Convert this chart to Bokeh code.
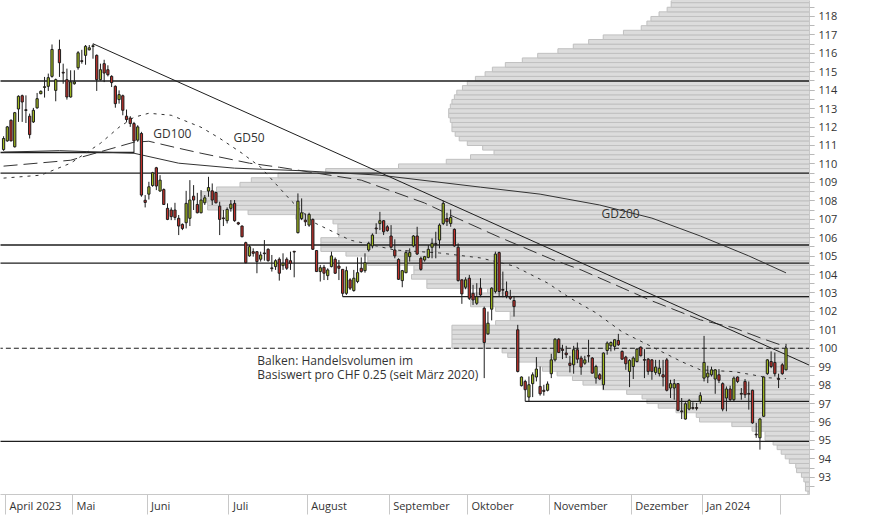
import numpy as np
from bokeh.plotting import figure
from bokeh.models import Range1d, FixedTicker, ColumnDataSource
from bokeh.core.properties import value
from bokeh.embed import file_html
from bokeh.resources import INLINE

# ---------------- data ----------------
month_labels = ["April 2023", "Mai", "Juni", "Juli", "August", "September",
                "Oktober", "November", "Dezember", "Jan 2024"]
# index of first trading day of each month (last entry = Feb 2024)
month_first_day = [1, 19, 39, 61, 82, 104, 125, 147, 169, 188, 209]

opens = [
    110.78, 111.25, 112.37, 110.93, 112.98, 113.70, 112.94, 112.59, 112.28, 113.04,
    113.81, 114.15, 114.21, 114.75, 113.99, 116.21, 114.97, 114.57, 113.63, 114.35,
    115.22, 115.60, 115.89, 116.19, 116.37, 115.89, 114.57, 115.44, 115.11, 114.75,
    114.21, 113.49, 113.70, 112.59, 112.49, 112.19, 111.29, 111.65, 108.03, 108.36,
    108.83, 109.79, 108.53, 108.61, 107.59, 107.50, 107.50, 107.05, 106.72, 106.81,
    107.05, 108.25, 107.80, 107.35, 107.89, 108.53, 108.54, 108.45, 107.71, 107.07,
    106.92, 107.59, 107.86, 106.81, 106.63, 105.73, 105.01, 105.24, 105.24, 104.83,
    105.17, 105.37, 104.36, 104.43, 104.83, 104.48, 104.83, 104.75, 105.26, 106.27,
    107.04, 106.95, 106.68, 106.99, 105.30, 104.16, 104.39, 103.94, 104.43, 104.83,
    104.46, 104.28, 102.98, 103.71, 103.13, 103.62, 104.34, 104.21, 105.33, 105.55,
    106.52, 106.77, 106.92, 106.59, 106.09, 105.33, 104.82, 103.67, 104.10, 104.97,
    105.55, 106.09, 104.88, 104.79, 104.93, 105.48, 105.68, 105.87, 106.77, 107.04,
    106.77, 106.45, 105.48, 103.71, 103.31, 103.80, 102.98, 102.44, 103.26, 102.17,
    100.78, 102.12, 103.08, 105.19, 103.19, 103.08, 102.80, 102.59, 101.00, 97.97,
    98.20, 97.35, 98.08, 98.44, 97.93, 97.72, 97.72, 98.62, 99.37, 100.49,
    99.95, 99.74, 99.19, 99.10, 99.92, 99.47, 99.19, 99.61, 99.47, 98.38,
    98.56, 98.02, 99.88, 100.13, 100.10, 100.42, 99.83, 99.52, 98.74, 99.01,
    99.28, 100.06, 99.39, 99.41, 99.37, 98.69, 98.62, 98.56, 99.37, 97.84,
    97.84, 98.08, 96.60, 96.16, 96.70, 96.78, 96.78, 97.12, 98.38, 98.44,
    98.56, 98.33, 98.56, 98.08, 97.30, 97.79, 97.21, 98.44, 97.55, 98.20,
    97.55, 97.72, 95.34, 95.14, 96.31, 98.62, 99.28, 99.23, 98.35, 99.10,
    98.83]

highs = [
    111.50, 112.06, 112.41, 112.82, 113.72, 113.76, 113.72, 112.73, 113.04, 113.85,
    113.99, 114.72, 114.90, 116.48, 114.63, 116.74, 115.44, 115.17, 115.08, 115.08,
    116.12, 116.19, 116.45, 116.45, 116.52, 115.94, 115.44, 115.65, 115.35, 114.81,
    114.26, 113.99, 113.76, 112.95, 112.59, 112.28, 112.10, 111.74, 108.31, 109.03,
    109.57, 109.84, 109.39, 108.67, 107.86, 107.64, 107.89, 107.23, 106.77, 108.54,
    109.12, 108.85, 108.43, 108.58, 108.31, 109.30, 108.94, 108.49, 107.95, 107.50,
    107.64, 108.04, 108.04, 106.86, 106.66, 105.78, 105.60, 105.42, 105.26, 105.24,
    105.87, 105.42, 105.06, 104.83, 104.93, 105.15, 104.93, 105.24, 105.28, 108.40,
    108.13, 107.31, 107.35, 107.04, 105.33, 104.52, 104.52, 104.34, 105.24, 104.93,
    104.79, 104.30, 104.43, 103.80, 104.25, 104.93, 104.93, 105.15, 105.78, 106.23,
    106.78, 107.40, 106.95, 106.68, 106.68, 105.91, 104.88, 104.25, 105.33, 105.42,
    106.14, 106.59, 104.97, 105.01, 105.60, 105.96, 106.32, 106.77, 108.00, 107.35,
    107.53, 106.50, 105.69, 103.74, 103.85, 103.98, 103.44, 103.53, 103.80, 102.26,
    101.99, 103.31, 105.24, 105.24, 104.16, 103.62, 103.17, 102.84, 101.27, 98.47,
    98.29, 98.47, 98.69, 99.52, 99.01, 98.02, 98.20, 99.70, 100.55, 100.55,
    100.19, 100.13, 99.59, 100.13, 100.31, 99.59, 99.59, 100.46, 99.52, 99.10,
    98.65, 99.77, 100.37, 100.37, 100.49, 100.78, 99.88, 99.59, 99.41, 99.56,
    100.01, 100.10, 99.95, 99.47, 99.41, 99.37, 99.37, 99.37, 99.47, 98.29,
    98.33, 98.11, 97.30, 97.07, 97.25, 97.07, 97.03, 97.61, 100.67, 99.05,
    99.00, 98.87, 98.87, 98.15, 97.93, 97.97, 98.47, 98.47, 97.84, 98.33,
    98.20, 97.75, 95.95, 96.22, 98.47, 99.41, 99.83, 99.77, 98.62, 99.19,
    100.24]

lows = [
    110.71, 111.20, 111.23, 110.89, 112.28, 112.28, 112.22, 111.38, 112.22, 113.00,
    113.78, 113.60, 113.96, 114.68, 113.40, 114.72, 114.35, 113.49, 113.60, 114.30,
    115.11, 115.44, 115.38, 116.16, 115.71, 113.96, 114.53, 114.44, 114.75, 114.17,
    113.05, 113.27, 112.64, 112.28, 112.01, 110.60, 111.20, 108.22, 107.64, 108.07,
    108.76, 108.58, 108.49, 107.77, 106.95, 106.95, 106.95, 106.14, 106.41, 106.50,
    106.63, 107.50, 107.32, 107.32, 107.77, 108.22, 107.77, 107.86, 106.14, 106.63,
    106.77, 107.41, 106.86, 106.68, 106.02, 104.61, 104.97, 104.97, 104.07, 104.70,
    104.75, 104.70, 104.16, 104.25, 103.67, 104.25, 104.25, 104.25, 103.85, 106.23,
    106.95, 106.63, 106.59, 105.33, 104.16, 103.62, 103.70, 103.70, 104.39, 104.03,
    103.70, 102.80, 102.89, 103.16, 103.07, 103.53, 104.10, 104.10, 105.24, 105.42,
    106.20, 106.41, 106.14, 106.32, 105.42, 104.88, 103.71, 103.31, 104.07, 104.70,
    105.48, 105.06, 104.21, 104.70, 104.88, 104.88, 104.88, 105.42, 106.68, 106.63,
    106.59, 105.51, 103.62, 102.41, 103.20, 102.62, 102.35, 102.35, 102.77, 98.38,
    100.73, 101.51, 102.98, 102.80, 102.77, 102.71, 102.62, 101.72, 98.69, 97.93,
    97.12, 97.12, 97.35, 98.20, 97.43, 97.43, 97.66, 98.38, 99.28, 99.74,
    99.41, 99.47, 98.69, 98.62, 99.19, 98.56, 99.10, 99.23, 98.62, 98.08,
    98.29, 97.75, 99.65, 99.83, 99.88, 100.13, 99.37, 98.83, 97.89, 98.33,
    99.23, 99.56, 98.38, 98.56, 98.29, 98.56, 98.47, 97.93, 97.66, 97.30,
    97.21, 96.58, 96.16, 96.13, 96.63, 96.67, 96.63, 96.99, 98.20, 98.11,
    98.47, 97.53, 98.11, 96.58, 96.58, 97.12, 97.12, 98.11, 97.21, 97.30,
    96.67, 95.91, 95.14, 94.50, 96.27, 98.56, 98.92, 98.47, 97.84, 98.56,
    98.80]

closes = [
    111.38, 112.01, 111.25, 112.78, 113.67, 113.36, 112.90, 111.59, 112.91, 113.54,
    113.94, 114.19, 114.68, 116.21, 114.57, 115.49, 114.93, 113.63, 114.45, 114.45,
    116.03, 115.56, 116.38, 116.30, 116.41, 114.57, 115.11, 114.93, 114.84, 114.41,
    113.27, 113.76, 112.91, 112.41, 112.19, 111.25, 112.01, 108.31, 107.91, 108.76,
    109.52, 108.80, 109.12, 107.80, 106.99, 107.14, 107.10, 106.63, 106.50, 107.86,
    108.04, 108.04, 107.35, 108.04, 108.16, 108.72, 108.04, 107.89, 106.99, 107.03,
    107.53, 107.82, 106.92, 106.74, 106.05, 104.64, 105.51, 105.15, 104.70, 105.06,
    105.13, 104.75, 104.32, 104.75, 104.07, 104.61, 104.34, 104.61, 105.22, 107.98,
    107.35, 106.86, 107.26, 105.37, 104.16, 104.37, 104.07, 104.25, 105.01, 104.07,
    104.34, 102.98, 104.21, 103.26, 103.80, 104.10, 104.16, 104.64, 105.69, 106.14,
    106.48, 106.92, 106.32, 106.38, 105.48, 105.01, 103.74, 104.21, 105.19, 105.19,
    106.09, 105.11, 104.28, 104.97, 105.37, 105.69, 105.64, 106.68, 107.86, 106.86,
    107.10, 105.55, 103.67, 102.95, 103.71, 102.71, 102.62, 102.80, 102.89, 100.31,
    101.36, 103.26, 105.11, 103.08, 103.15, 102.84, 102.71, 102.26, 98.74, 98.44,
    97.75, 98.02, 98.56, 98.87, 97.53, 97.66, 98.06, 99.37, 100.49, 99.77,
    99.88, 99.65, 99.07, 99.92, 99.41, 98.98, 99.37, 99.57, 98.65, 99.01,
    98.33, 99.74, 100.28, 100.31, 100.46, 100.19, 99.41, 99.16, 99.34, 99.47,
    99.95, 99.59, 99.35, 98.74, 98.74, 98.98, 98.92, 98.44, 97.72, 98.08,
    98.08, 96.63, 96.56, 96.99, 97.17, 96.74, 96.74, 97.43, 99.23, 98.65,
    98.83, 98.83, 98.26, 96.70, 97.79, 97.21, 98.38, 98.20, 97.51, 97.48,
    97.51, 95.95, 95.30, 96.16, 98.44, 99.37, 99.01, 98.62, 98.31, 98.62,
    100.01]

# price axis
y_tick_values = list(range(93, 119))

# volume profile: bins of CHF 0.25, lower bound from 92.00 upward; relative volume
vp_bin_step = 0.25
vp_bin_start = 92.0
vp_volume = [
    0.2, 0.5, 0.5, 0.7, 1.0, 1.6, 1.7, 2.5, 3.0, 3.5,            # 92.00 - 94.25
    4.0, 4.5, 5.5, 5.5, 7.1, 9.6, 13.6, 14.0, 16.5, 18.7,        # 94.50 - 96.75
    20.1, 20.7, 22.6, 25.6, 28.0, 29.3, 31.2, 33.0, 33.7, 36.1,  # 97.00 - 99.25
    37.3, 38.0, 44.2, 44.2, 44.2, 44.2, 44.2, 38.8, 37.0, 37.0,  # 99.50 - 101.75
    38.8, 41.9, 41.9, 41.9, 39.8, 47.3, 47.3, 49.2, 48.9, 48.9,  # 102.00 - 104.25
    54.6, 54.6, 57.3, 60.4, 60.4, 60.4, 58.2, 58.3, 58.3, 58.9,  # 104.50 - 106.75
    63.5, 69.4, 74.4, 74.4, 75.0, 75.2, 73.3, 70.4, 69.0, 65.7,  # 107.00 - 109.25
    59.8, 50.8, 44.9, 41.9, 39.0, 40.4, 42.3, 43.3, 43.8, 44.2,  # 109.50 - 111.75
    44.2, 44.4, 44.6, 44.6, 44.4, 44.2, 43.9, 43.6, 42.9, 42.3,  # 112.00 - 114.25
    41.3, 40.1, 39.2, 37.6, 35.5, 33.6, 31.1, 29.2, 27.3, 25.5,  # 114.50 - 116.75
    23.0, 20.8, 20.1, 19.6, 18.6, 17.6, 17.1, 17.1]              # 117.00 - 118.75

# moving averages (read at sample days)
gd50_day = [0, 10, 18, 26, 31, 35, 39, 45, 53, 58, 64, 69, 77, 83, 93, 105, 117,
            128, 137, 146, 152, 159, 166, 174, 182, 187, 196, 201, 205, 210]
gd50_value = [109.23, 109.39, 110.04, 111.12, 111.99, 112.53, 112.75, 112.64, 111.99,
              111.39, 110.58, 109.82, 108.04, 106.85, 105.87, 105.33, 105.17, 104.90,
              104.46, 103.54, 102.73, 101.92, 100.89, 100.08, 99.27, 98.83, 98.73,
              98.56, 98.40, 98.35]
gd100_day = [0, 18, 35, 39, 47, 53, 66, 74, 96, 113, 121, 133, 147, 155, 174, 187,
             196, 203, 210]
gd100_value = [109.88, 110.20, 111.18, 111.23, 110.85, 110.58, 110.04, 109.82, 109.12,
               107.88, 107.12, 106.03, 104.84, 104.25, 102.57, 101.54, 101.11, 100.57,
               100.08]
gd200_day = [0, 15, 35, 47, 62, 80, 101, 128, 144, 160, 174, 187, 200, 210]
gd200_value = [110.64, 110.72, 110.58, 110.04, 109.77, 109.63, 109.39, 108.74, 108.36,
               107.77, 107.06, 106.09, 105.01, 104.09]

# downtrend line through two points
trend_day = [24, 210]
trend_value = [116.52, 99.65]

# horizontal levels
levels_full = [114.50, 109.50, 105.60, 104.62, 94.95]
level_support_left = 110.62          # from chart start to day 35
level_support_left_end = 35
levels_from_day = [(102.80, 91), (97.12, 140)]
level_dashed = 100.0

# ---------------- figure ----------------
X0, X1 = -0.824, 216.3
Y0, Y1 = 92.066, 118.866
FRAME_W = 809

p = figure(width=874, height=515, x_range=Range1d(X0, X1), y_range=Range1d(Y0, Y1),
           y_axis_location="right", toolbar_location=None, output_backend="svg",
           title=None, min_border_left=0, min_border_top=0,
           min_border_right=65, min_border_bottom=20)
p.xgrid.visible = False
p.ygrid.visible = False
p.outline_line_color = None
p.background_fill_color = "white"
p.border_fill_color = "white"

# volume profile on its own reversed x range (0 at the right edge)
p.extra_x_ranges = {"vol": Range1d(100, 0)}
vp_centers = [vp_bin_start + vp_bin_step * (k + 0.5) for k in range(len(vp_volume))]
p.hbar(y=vp_centers, height=vp_bin_step, left=0, right=vp_volume, x_range_name="vol",
       fill_color="#dcdcdc", line_color="#c0c0c0", line_width=1)

line_col = "#1e1e1e"
# horizontal levels
p.segment(x0=[X0 - 5] * len(levels_full), x1=[X1 + 5] * len(levels_full),
          y0=levels_full, y1=levels_full, line_color=line_col, line_width=1.4)
p.segment(x0=[X0 - 5], x1=[level_support_left_end], y0=[level_support_left],
          y1=[level_support_left], line_color=line_col, line_width=1.4)
p.segment(x0=[d for _, d in levels_from_day], x1=[X1 + 5] * len(levels_from_day),
          y0=[v for v, _ in levels_from_day], y1=[v for v, _ in levels_from_day],
          line_color=line_col, line_width=1.4)
p.segment(x0=[X0 - 5], x1=[X1 + 5], y0=[level_dashed], y1=[level_dashed],
          line_color=line_col, line_width=1.2, line_dash="5 3")

# moving averages
p.line(gd200_day, gd200_value, line_color="#333333", line_width=1)
p.line(gd100_day, gd100_value, line_color="#333333", line_width=1, line_dash="14 6")
p.line(gd50_day, gd50_value, line_color="#333333", line_width=1, line_dash="3 5")

# trend line extended to the right edge
slope = (trend_value[1] - trend_value[0]) / (trend_day[1] - trend_day[0])
p.line([trend_day[0], X1 + 5], [trend_value[0], trend_value[0] + slope * (X1 + 5 - trend_day[0])],
       line_color=line_col, line_width=1)

# candles
n = min(len(opens), len(highs), len(lows), len(closes))
days = list(range(n))
o = np.array(opens[:n]); h = np.array(highs[:n]); l = np.array(lows[:n]); c = np.array(closes[:n])
up = c >= o
src = ColumnDataSource(dict(
    x=days, high=h, low=l,
    top=np.maximum(o, c), bottom=np.minimum(o, c),
    color=np.where(up, "#9fb81e", "#c0302a"),
))
p.segment(x0="x", x1="x", y0="low", y1="high", source=src, line_color="#1e1e1e", line_width=1)
p.vbar(x="x", width=0.6, top="top", bottom="bottom", source=src,
       fill_color="color", line_color="#1e1e1e", line_width=1)

# annotations as text glyphs
txt_kw = dict(text_font=value("Open Sans"), text_font_size=value("12px"),
              text_color="#333333", text_align="left", text_baseline="middle")
p.text(x=[40.2], y=[111.64], text=["GD100"], **txt_kw)
p.text(x=[61.7], y=[111.42], text=["GD50"], **txt_kw)
p.text(x=[160.5], y=[107.31], text=["GD200"], **txt_kw)
p.text(x=[68.1, 68.1], y=[99.32, 98.56],
       text=["Balken: Handelsvolumen im", "Basiswert pro CHF 0.25 (seit März 2020)"], **txt_kw)

# ---------------- axes ----------------
yax = p.yaxis[0]
yax.ticker = FixedTicker(ticks=y_tick_values, minor_ticks=[92 + 0.5 * k for k in range(54)])
yax.axis_line_color = "#c8c8c8"
yax.major_tick_line_color = "#b8b8b8"
yax.minor_tick_line_color = "#b8b8b8"
yax.major_tick_in = 0
yax.major_tick_out = 5
yax.minor_tick_in = 0
yax.minor_tick_out = 5
yax.major_label_standoff = 4
yax.major_label_text_font = "Open Sans"
yax.major_label_text_font_size = "11px"
yax.major_label_text_color = "#333333"

# month labels: left-aligned right after each separator
EM = {" ": 0.26, "A": 0.633, "D": 0.722, "J": 0.266, "M": 0.903, "N": 0.744, "O": 0.781,
      "S": 0.534, "a": 0.556, "b": 0.613, "c": 0.476, "e": 0.561, "g": 0.548, "i": 0.258,
      "k": 0.526, "l": 0.258, "m": 0.932, "n": 0.613, "o": 0.602, "p": 0.613, "r": 0.408,
      "s": 0.477, "t": 0.353, "u": 0.613, "v": 0.5, "z": 0.451}
def text_width(s, size=11):
    return sum(EM.get(ch, 0.572 if ch.isdigit() else 0.55) for ch in s) * size

px_per_day = FRAME_W / (X1 - X0)
separators = [d - 0.5 for d in month_first_day]
label_pos = [round(separators[i] + (4 + text_width(lab) / 2) / px_per_day, 3)
             for i, lab in enumerate(month_labels)]
xax = p.xaxis[0]
xax.ticker = FixedTicker(ticks=label_pos, minor_ticks=separators)
xax.major_label_overrides = {pos: lab for pos, lab in zip(label_pos, month_labels)}
xax.axis_line_color = "#c8c8c8"
xax.major_tick_in = 0
xax.major_tick_out = 0
xax.minor_tick_in = 0
xax.minor_tick_out = 20
xax.minor_tick_line_color = "#c8c8c8"
xax.major_label_standoff = -17
xax.major_label_text_font = "Open Sans"
xax.major_label_text_font_size = "11px"
xax.major_label_text_color = "#333333"

open("out.html", "w").write(file_html(p, INLINE))
